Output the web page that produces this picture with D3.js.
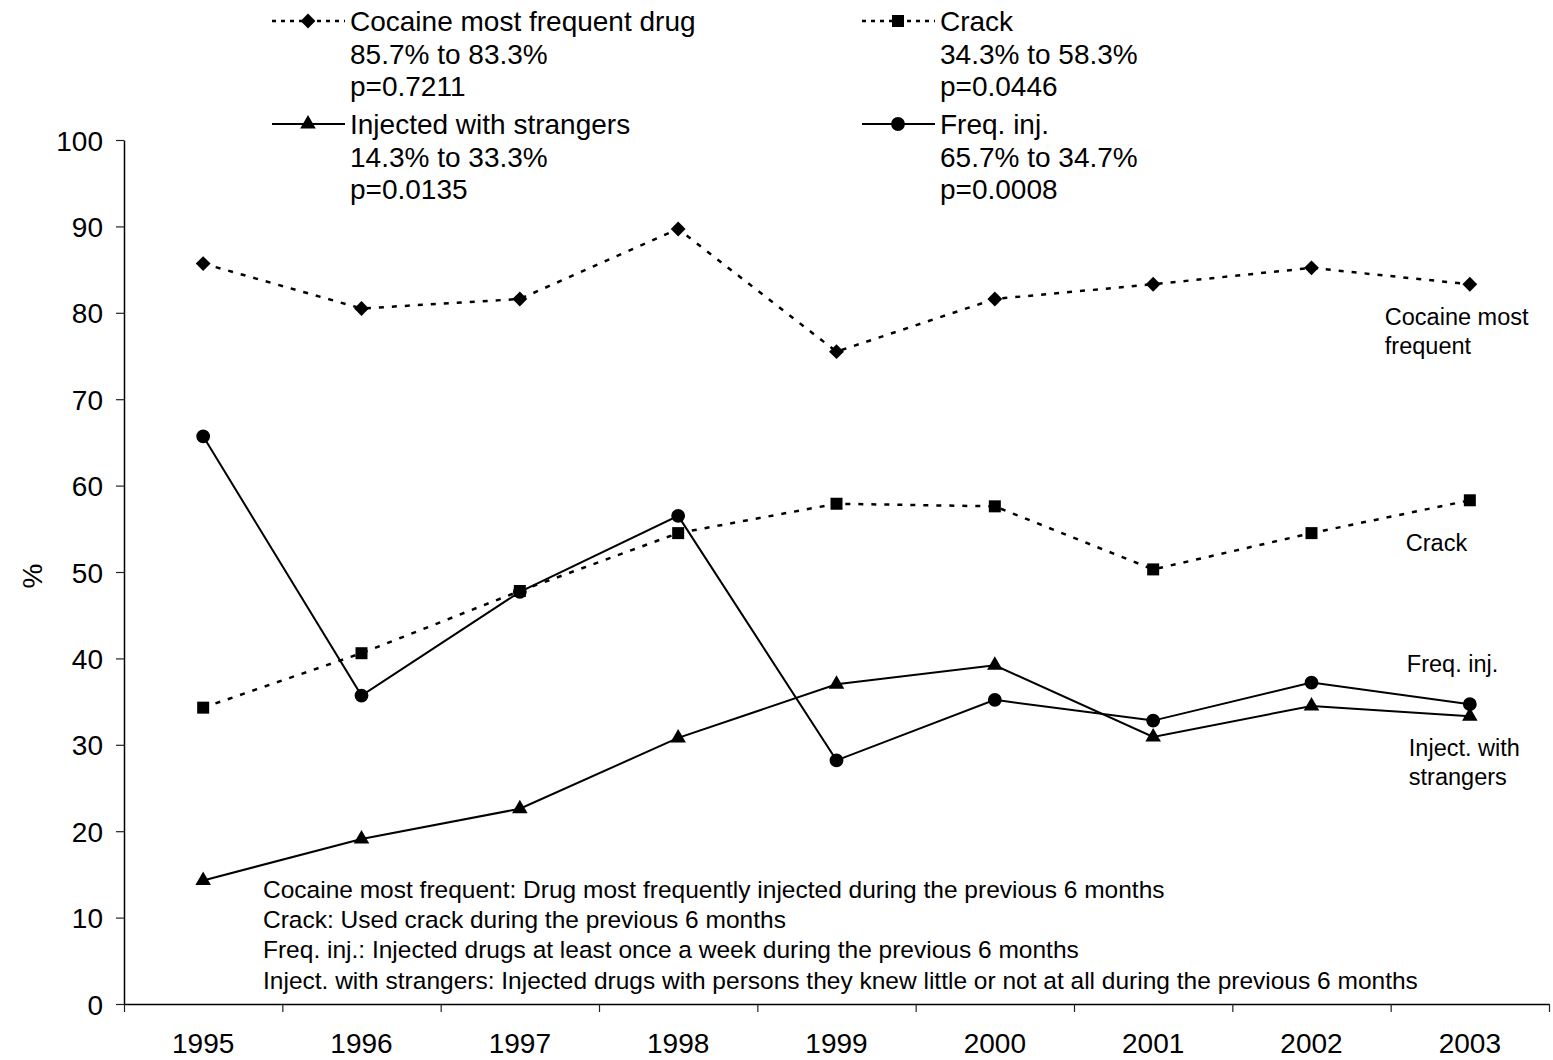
<!DOCTYPE html>
<html>
<head>
<meta charset="utf-8">
<script src="https://cdn.jsdelivr.net/npm/d3@7"></script>
<style>
  body { margin: 0; background: #fff; }
  svg { display: block; }
  text { font-family: "Liberation Sans", Arial, sans-serif; fill: #000; }
</style>
</head>
<body>
<svg id="chart" width="1553" height="1060"></svg>
<script>
// ---- data -------------------------------------------------------------
const years = ["1995", "1996", "1997", "1998", "1999", "2000", "2001", "2002", "2003"];
const cocaineMostFrequent = [85.7, 80.5, 81.6, 89.7, 75.5, 81.6, 83.3, 85.2, 83.3];
const crack = [34.3, 40.6, 47.8, 54.5, 57.9, 57.6, 50.3, 54.5, 58.3];
const freqInj = [65.7, 35.7, 47.7, 56.5, 28.2, 35.2, 32.8, 37.2, 34.7];
const injStrangers = [14.3, 19.1, 22.6, 30.8, 37.0, 39.2, 30.9, 34.5, 33.3];
const yTicks = [0, 10, 20, 30, 40, 50, 60, 70, 80, 90, 100];

const legendCocaine = ["Cocaine most frequent drug", "85.7% to 83.3%", "p=0.7211"];
const legendCrack = ["Crack", "34.3% to 58.3%", "p=0.0446"];
const legendStrangers = ["Injected with strangers", "14.3% to 33.3%", "p=0.0135"];
const legendFreq = ["Freq. inj.", "65.7% to 34.7%", "p=0.0008"];

const endLabelCocaine = ["Cocaine most", "frequent"];
const endLabelCrack = ["Crack"];
const endLabelFreq = ["Freq. inj."];
const endLabelStrangers = ["Inject. with", "strangers"];

const definitions = [
  "Cocaine most frequent: Drug most frequently injected during the previous 6 months",
  "Crack: Used crack during the previous 6 months",
  "Freq. inj.: Injected drugs at least once a week during the previous 6 months",
  "Inject. with strangers: Injected drugs with persons they knew little or not at all during the previous 6 months"
];

// ---- layout -----------------------------------------------------------
const svg = d3.select("#chart");
const plot = { left: 124, right: 1549, top: 140, bottom: 1004 };

const x = d3.scaleBand().domain(years).range([plot.left, plot.right]).paddingInner(0).paddingOuter(0);
const xBound = d3.scaleLinear().domain([0, years.length]).range([plot.left, plot.right]);
const y = d3.scaleLinear().domain([0, 100]).range([plot.bottom, plot.top]);
const cx = yr => x(yr) + x.bandwidth() / 2;

// ---- axes -------------------------------------------------------------
const yAxis = svg.append("g")
  .attr("transform", `translate(${plot.left},0)`)
  .call(d3.axisLeft(y).tickValues(yTicks).tickSize(8).tickSizeOuter(0).tickPadding(13));
yAxis.select(".domain").attr("stroke", "#000").attr("stroke-width", 1.5);
yAxis.selectAll(".tick line").attr("stroke", "#222").attr("stroke-width", 1.2);
yAxis.selectAll("text").style("font-size", "28px").attr("dy", "0.36em");

const xTicks = svg.append("g")
  .attr("transform", `translate(0,${plot.bottom})`)
  .call(d3.axisBottom(xBound).tickValues(d3.range(0, years.length + 1)).tickFormat("").tickSize(8).tickSizeOuter(0));
xTicks.select(".domain").attr("stroke", "#000").attr("stroke-width", 1.5);
xTicks.selectAll(".tick line").attr("stroke", "#222").attr("stroke-width", 1.2);

const xLabels = svg.append("g")
  .attr("transform", `translate(0,${plot.bottom})`)
  .call(d3.axisBottom(x).tickSize(0).tickPadding(29));
xLabels.select(".domain").remove();
xLabels.selectAll("text").style("font-size", "28px");

svg.append("text")
  .attr("transform", `translate(32,${(plot.top + plot.bottom) / 2 + 4}) rotate(-90)`)
  .attr("text-anchor", "middle")
  .attr("dy", "0.36em")
  .style("font-size", "28px")
  .text("%");

// ---- series -----------------------------------------------------------
const diamond = d3.symbol().type(d3.symbolSquare).size(110)();
const square = d3.symbol().type(d3.symbolSquare).size(144)();
const triangle = d3.symbol().type(d3.symbolTriangle).size(105)();
const circle = d3.symbol().type(d3.symbolCircle).size(150)();

const series = [
  { values: crack, dash: "5,8", width: 2.5, marker: square, rotate: 0 },
  { values: cocaineMostFrequent, dash: "5,8", width: 2.5, marker: diamond, rotate: 45 },
  { values: injStrangers, dash: null, width: 2, marker: triangle, rotate: 0 },
  { values: freqInj, dash: null, width: 2, marker: circle, rotate: 0 }
];

const line = d3.line().x((d, i) => cx(years[i])).y(d => y(d));

series.forEach(s => {
  svg.append("path")
    .attr("d", line(s.values))
    .attr("fill", "none")
    .attr("stroke", "#000")
    .attr("stroke-width", s.width)
    .attr("stroke-dasharray", s.dash);
  svg.append("g").selectAll("path")
    .data(s.values)
    .join("path")
    .attr("d", s.marker)
    .attr("fill", "#000")
    .attr("transform", (d, i) => `translate(${cx(years[i])},${y(d)}) rotate(${s.rotate})`);
});

// ---- end-of-line labels -------------------------------------------------
function endLabel(lines, values, dx, dy) {
  const last = values.length - 1;
  const x0 = cx(years[last]) + dx;
  const y0 = y(values[last]) + dy;
  const t = svg.append("text").style("font-size", "23.5px");
  lines.forEach((ln, i) => {
    t.append("tspan").attr("x", x0).attr("y", y0 + i * 29).attr("dy", "0.36em").text(ln);
  });
}
endLabel(endLabelCocaine, cocaineMostFrequent, -85, 32);
endLabel(endLabelCrack, crack, -64, 42);
endLabel(endLabelFreq, freqInj, -63, -41);
endLabel(endLabelStrangers, injStrangers, -61, 31);

// ---- legend -----------------------------------------------------------
function legendEntry(x0, y0, lines, dash, marker, rotate) {
  const g = svg.append("g").attr("transform", `translate(${x0},${y0})`);
  g.append("line").attr("x1", 0).attr("x2", 73).attr("y1", 0).attr("y2", 0)
    .attr("stroke", "#000").attr("stroke-width", dash ? 2.5 : 2)
    .attr("stroke-dasharray", dash);
  g.append("path").attr("d", marker).attr("fill", "#000")
    .attr("transform", `translate(36,0) rotate(${rotate})`);
  const t = g.append("text").style("font-size", "28px");
  lines.forEach((ln, i) => {
    t.append("tspan").attr("x", 78).attr("y", i * 32.5).attr("dy", "0.36em").text(ln);
  });
}
legendEntry(272, 21, legendCocaine, "4,5", diamond, 45);
legendEntry(862, 21, legendCrack, "4,5", square, 0);
legendEntry(272, 124, legendStrangers, null, triangle, 0);
legendEntry(862, 124, legendFreq, null, circle, 0);

// ---- definitions --------------------------------------------------------
const defs = svg.append("text").style("font-size", "24.5px");
definitions.forEach((ln, i) => {
  defs.append("tspan").attr("x", 263).attr("y", 889 + i * 30.3).attr("dy", "0.36em").text(ln);
});
</script>
</body>
</html>
